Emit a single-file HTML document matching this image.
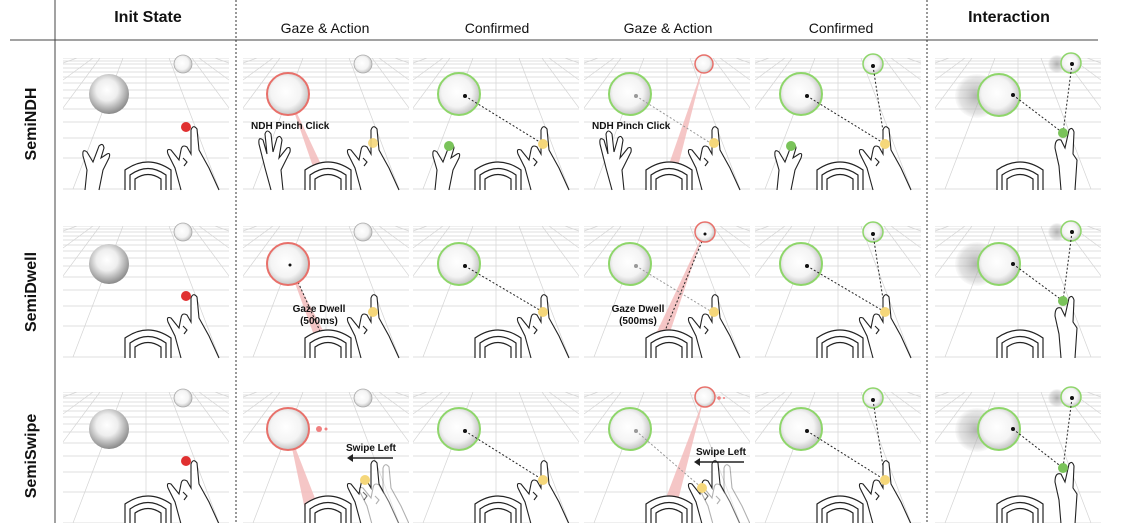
<!DOCTYPE html>
<html><head><meta charset="utf-8"><style>
body{margin:0;background:#fff;}
svg{display:block;font-family:"Liberation Sans","Noto Sans CJK KR",sans-serif;}
</style></head><body>
<svg width="1122" height="523" viewBox="0 0 1122 523" xmlns="http://www.w3.org/2000/svg">
<defs>
<clipPath id="pc"><rect x="0" y="0" width="166" height="133"/></clipPath>
<radialGradient id="sph" cx="0.45" cy="0.4" r="0.6">
<stop offset="0" stop-color="#fff"/><stop offset="0.45" stop-color="#eee"/><stop offset="1" stop-color="#8a8a8a"/>
</radialGradient>
<radialGradient id="sphW" cx="0.45" cy="0.45" r="0.6">
<stop offset="0" stop-color="#fff"/><stop offset="0.6" stop-color="#f4f4f4"/><stop offset="1" stop-color="#b8b8b8"/>
</radialGradient>
<radialGradient id="ghost" cx="0.5" cy="0.5" r="0.5">
<stop offset="0" stop-color="#999" stop-opacity="0.75"/><stop offset="0.8" stop-color="#bbb" stop-opacity="0.4"/><stop offset="1" stop-color="#ccc" stop-opacity="0.1"/>
</radialGradient>
<g id="grid" stroke="#d4d4d4" stroke-width="0.7" fill="none">
<line x1="0" y1="0" x2="166" y2="0"/><line x1="0" y1="3" x2="166" y2="3"/><line x1="0" y1="6" x2="166" y2="6"/>
<line x1="0" y1="10" x2="166" y2="10"/><line x1="0" y1="14" x2="166" y2="14"/><line x1="0" y1="19" x2="166" y2="19"/>
<line x1="0" y1="25" x2="166" y2="25"/><line x1="0" y1="32" x2="166" y2="32"/><line x1="0" y1="40" x2="166" y2="40"/>
<line x1="0" y1="51" x2="166" y2="51"/><line x1="0" y1="64" x2="166" y2="64"/><line x1="0" y1="80" x2="166" y2="80"/>
<line x1="0" y1="100" x2="166" y2="100"/><line x1="0" y1="131" x2="166" y2="131"/>
<line x1="83" y1="0" x2="83" y2="131"/>
<line x1="60" y1="0" x2="10" y2="131"/><line x1="106" y1="0" x2="156" y2="131"/>
<line x1="37" y1="0" x2="-60" y2="131"/><line x1="129" y1="0" x2="226" y2="131"/>
<line x1="14" y1="0" x2="0" y2="5"/><line x1="152" y1="0" x2="166" y2="5"/>
<line x1="0" y1="22" x2="30" y2="0"/><line x1="166" y1="22" x2="136" y2="0"/>
</g>
<g id="hs" fill="#fff" stroke="#222" stroke-width="1.2">
<path d="M62 132 L62 112 Q85 96 108 112 L108 132"/>
<path d="M67 132 L67 117 Q85 104 103 117 L103 132"/>
<path d="M72 132 L72 121 Q85 112 98 121 L98 132"/>
</g>
<g id="rh" fill="#fff" stroke="#222" stroke-width="1.1">
<path d="M118 132 L112 110 L105 96 Q103 90 108 92 L116 102 L118 92 Q119 86 124 89 L128 96 L128 72 Q130 66 134 71 L136 92 L146 110 L156 132"/>
<path d="M120 100 L124 104 L121 108"/>
</g>
<g id="lh" fill="#fff" stroke="#222" stroke-width="1.1">
<path d="M22 132 L24 112 L20 98 Q19 90 24 94 L30 104 L36 88 Q40 84 41 90 L38 100 L44 96 Q48 94 46 100 L40 112 L36 132"/>
</g>
<g id="lhOpen" fill="#fff" stroke="#222" stroke-width="1.1">
<path d="M28 132 L22 110 L16 86 Q15 78 20 82 L24 96 L22 76 Q24 70 28 76 L30 94 L34 80 Q37 76 39 82 L36 100 L44 90 Q48 88 47 94 L38 112 L40 132"/>
</g>
<g id="rhUp" fill="#fff" stroke="#222" stroke-width="1.1">
<path d="M126 132 L124 108 L120 90 Q120 80 126 82 L130 90 L134 72 Q137 68 139 74 L138 96 L142 102 L140 132"/>
</g>
<g id="g" clip-path="url(#pc)"><use href="#grid"/></g>
</defs>

<line x1="55" y1="0" x2="55" y2="523" stroke="#444" stroke-width="1"/>
<line x1="10" y1="40" x2="1098" y2="40" stroke="#444" stroke-width="1"/>
<line x1="236" y1="0" x2="236" y2="523" stroke="#333" stroke-width="1" stroke-dasharray="2,2"/>
<line x1="927" y1="0" x2="927" y2="523" stroke="#333" stroke-width="1" stroke-dasharray="2,2"/>
<g fill="#111" text-anchor="middle">
<text x="148" y="22" font-weight="bold" font-size="16">Init State</text>
<text x="325" y="33" font-size="14">Gaze &amp; Action</text>
<text x="497" y="33" font-size="14">Confirmed</text>
<text x="668" y="33" font-size="14">Gaze &amp; Action</text>
<text x="841" y="33" font-size="14">Confirmed</text>
<text x="1009" y="22" font-weight="bold" font-size="16">Interaction</text>
</g>
<g font-size="16" font-weight="bold" fill="#111" text-anchor="middle">
<text transform="translate(36,124) rotate(-90)">SemiNDH</text>
<text transform="translate(36,292) rotate(-90)">SemiDwell</text>
<text transform="translate(36,456) rotate(-90)">SemiSwipe</text>
</g>

<!-- ROW 1 -->
<g transform="translate(63,58)">
<use href="#g"/>
<circle cx="46" cy="36" r="20" fill="url(#sph)"/>
<circle cx="120" cy="6" r="9" fill="url(#sphW)" stroke="#aaa" stroke-width="0.8"/>
<use href="#hs"/><use href="#lh"/><use href="#rh"/>
<circle cx="123" cy="69" r="5" fill="#e03030"/>
</g>
<g transform="translate(243,58)">
<use href="#g"/>
<path d="M45 36 L78 132 L90 132 Z" fill="#f3b8b8" opacity="0.8"/>
<circle cx="45" cy="36" r="21" fill="url(#sphW)" stroke="#e8706a" stroke-width="2"/>
<circle cx="120" cy="6" r="9" fill="url(#sphW)" stroke="#aaa" stroke-width="0.8"/>
<use href="#hs"/><use href="#lhOpen"/><use href="#rh"/>
<circle cx="130" cy="85" r="5" fill="#f5d77a" opacity="0.9"/>
<text x="8" y="71" font-size="10" font-weight="bold" fill="#111">NDH Pinch Click</text>
</g>
<g transform="translate(413,58)">
<use href="#g"/>
<circle cx="46" cy="36" r="21" fill="url(#sphW)" stroke="#8ed66a" stroke-width="2"/>
<line x1="52" y1="38" x2="130" y2="86" stroke="#222" stroke-dasharray="2,2"/>
<circle cx="52" cy="38" r="2" fill="#111"/>
<use href="#hs"/><use href="#lh"/><use href="#rh"/>
<circle cx="130" cy="86" r="5" fill="#f5d77a"/>
<circle cx="36" cy="88" r="5" fill="#7ac35a"/>
</g>
<g transform="translate(584,58)">
<use href="#g"/>
<path d="M120 6 L76 132 L88 132 Z" fill="#f3b8b8" opacity="0.8"/>
<circle cx="46" cy="36" r="21" fill="url(#sphW)" stroke="#8ed66a" stroke-width="2"/>
<circle cx="120" cy="6" r="9" fill="url(#sphW)" stroke="#e8706a" stroke-width="1.5"/>
<line x1="52" y1="38" x2="128" y2="86" stroke="#999" stroke-dasharray="2,2"/>
<circle cx="52" cy="38" r="2" fill="#999"/>
<use href="#hs"/><use href="#lhOpen"/><use href="#rh"/>
<circle cx="130" cy="85" r="5" fill="#f5d77a"/>
<text x="8" y="71" font-size="10" font-weight="bold" fill="#111">NDH Pinch Click</text>
</g>
<g transform="translate(755,58)">
<use href="#g"/>
<circle cx="46" cy="36" r="21" fill="url(#sphW)" stroke="#8ed66a" stroke-width="2"/>
<circle cx="118" cy="6" r="10" fill="url(#sphW)" stroke="#8ed66a" stroke-width="1.5"/>
<line x1="52" y1="38" x2="130" y2="86" stroke="#222" stroke-dasharray="2,2"/>
<line x1="118" y1="8" x2="130" y2="86" stroke="#222" stroke-dasharray="2,2"/>
<circle cx="52" cy="38" r="2" fill="#111"/><circle cx="118" cy="8" r="2" fill="#111"/>
<use href="#hs"/><use href="#lh"/><use href="#rh"/>
<circle cx="130" cy="86" r="5" fill="#f5d77a"/>
<circle cx="36" cy="88" r="5" fill="#7ac35a"/>
</g>
<g transform="translate(935,58)">
<use href="#g"/>
<circle cx="42" cy="38" r="22" fill="url(#ghost)"/>
<circle cx="122" cy="6" r="9" fill="url(#ghost)"/>
<circle cx="64" cy="37" r="21" fill="url(#sphW)" stroke="#8ed66a" stroke-width="2"/>
<circle cx="136" cy="5" r="10" fill="url(#sphW)" stroke="#8ed66a" stroke-width="1.5"/>
<line x1="78" y1="37" x2="128" y2="75" stroke="#222" stroke-dasharray="2,2"/>
<line x1="137" y1="6" x2="128" y2="75" stroke="#222" stroke-dasharray="2,2"/>
<circle cx="78" cy="37" r="2" fill="#111"/><circle cx="137" cy="6" r="2" fill="#111"/>
<use href="#hs"/><use href="#rhUp"/>
<circle cx="128" cy="75" r="5" fill="#7ac35a"/>
</g>

<!-- ROW 2 -->
<g transform="translate(63,226)">
<use href="#g"/>
<circle cx="46" cy="38" r="20" fill="url(#sph)"/>
<circle cx="120" cy="6" r="9" fill="url(#sphW)" stroke="#aaa" stroke-width="0.8"/>
<use href="#hs"/><use href="#rh"/>
<circle cx="123" cy="70" r="5" fill="#e03030"/>
</g>
<g transform="translate(243,226)">
<use href="#g"/>
<path d="M45 38 L72 112 L84 112 Z" fill="#f3b8b8" opacity="0.8"/>
<line x1="47" y1="38" x2="80" y2="112" stroke="#222" stroke-dasharray="2,2"/>
<circle cx="45" cy="38" r="21" fill="url(#sphW)" stroke="#e8706a" stroke-width="2"/>
<circle cx="47" cy="39" r="1.5" fill="#111"/>
<circle cx="120" cy="6" r="9" fill="url(#sphW)" stroke="#aaa" stroke-width="0.8"/>
<use href="#hs"/><use href="#rh"/>
<circle cx="130" cy="86" r="5" fill="#f5d77a"/>
<text x="76" y="86" font-size="10" font-weight="bold" fill="#111" text-anchor="middle">Gaze Dwell</text>
<text x="76" y="98" font-size="10" font-weight="bold" fill="#111" text-anchor="middle">(500ms)</text>
</g>
<g transform="translate(413,226)">
<use href="#g"/>
<circle cx="46" cy="38" r="21" fill="url(#sphW)" stroke="#8ed66a" stroke-width="2"/>
<line x1="52" y1="40" x2="130" y2="86" stroke="#222" stroke-dasharray="2,2"/>
<circle cx="52" cy="40" r="2" fill="#111"/>
<use href="#hs"/><use href="#rh"/>
<circle cx="130" cy="86" r="5" fill="#f5d77a"/>
</g>
<g transform="translate(584,226)">
<use href="#g"/>
<path d="M120 6 L70 112 L84 112 Z" fill="#f3b8b8" opacity="0.8"/>
<line x1="121" y1="8" x2="78" y2="112" stroke="#222" stroke-dasharray="2,2"/>
<circle cx="46" cy="38" r="21" fill="url(#sphW)" stroke="#8ed66a" stroke-width="2"/>
<circle cx="121" cy="6" r="10" fill="url(#sphW)" stroke="#e8706a" stroke-width="1.5"/>
<circle cx="121" cy="8" r="1.5" fill="#111"/>
<line x1="52" y1="40" x2="128" y2="86" stroke="#999" stroke-dasharray="2,2"/>
<circle cx="52" cy="40" r="2" fill="#999"/>
<use href="#hs"/><use href="#rh"/>
<circle cx="130" cy="86" r="5" fill="#f5d77a"/>
<text x="54" y="86" font-size="10" font-weight="bold" fill="#111" text-anchor="middle">Gaze Dwell</text>
<text x="54" y="98" font-size="10" font-weight="bold" fill="#111" text-anchor="middle">(500ms)</text>
</g>
<g transform="translate(755,226)">
<use href="#g"/>
<circle cx="46" cy="38" r="21" fill="url(#sphW)" stroke="#8ed66a" stroke-width="2"/>
<circle cx="118" cy="6" r="10" fill="url(#sphW)" stroke="#8ed66a" stroke-width="1.5"/>
<line x1="52" y1="40" x2="130" y2="86" stroke="#222" stroke-dasharray="2,2"/>
<line x1="118" y1="8" x2="130" y2="86" stroke="#222" stroke-dasharray="2,2"/>
<circle cx="52" cy="40" r="2" fill="#111"/><circle cx="118" cy="8" r="2" fill="#111"/>
<use href="#hs"/><use href="#rh"/>
<circle cx="130" cy="86" r="5" fill="#f5d77a"/>
</g>
<g transform="translate(935,226)">
<use href="#g"/>
<circle cx="42" cy="38" r="22" fill="url(#ghost)"/>
<circle cx="122" cy="6" r="9" fill="url(#ghost)"/>
<circle cx="64" cy="38" r="21" fill="url(#sphW)" stroke="#8ed66a" stroke-width="2"/>
<circle cx="136" cy="5" r="10" fill="url(#sphW)" stroke="#8ed66a" stroke-width="1.5"/>
<line x1="78" y1="38" x2="128" y2="75" stroke="#222" stroke-dasharray="2,2"/>
<line x1="137" y1="6" x2="128" y2="75" stroke="#222" stroke-dasharray="2,2"/>
<circle cx="78" cy="38" r="2" fill="#111"/><circle cx="137" cy="6" r="2" fill="#111"/>
<use href="#hs"/><use href="#rhUp"/>
<circle cx="128" cy="75" r="5" fill="#7ac35a"/>
</g>

<!-- ROW 3 -->
<g transform="translate(63,392)">
<use href="#g"/>
<circle cx="46" cy="37" r="20" fill="url(#sph)"/>
<circle cx="120" cy="6" r="9" fill="url(#sphW)" stroke="#aaa" stroke-width="0.8"/>
<use href="#hs"/><use href="#rh"/>
<circle cx="123" cy="69" r="5" fill="#e03030"/>
</g>
<g transform="translate(243,392)">
<use href="#g"/>
<path d="M45 37 L65 132 L82 132 Z" fill="#f3b8b8" opacity="0.8"/>
<circle cx="45" cy="37" r="21" fill="url(#sphW)" stroke="#e8706a" stroke-width="2"/>
<circle cx="76" cy="37" r="3" fill="#f08080"/><circle cx="83" cy="37" r="1.5" fill="#f08080"/>
<circle cx="120" cy="6" r="9" fill="url(#sphW)" stroke="#aaa" stroke-width="0.8"/>
<g clip-path="url(#pc)">
<use href="#hs"/><use href="#rh"/>
<g transform="translate(12,4)" opacity="0.35"><use href="#rh"/></g>
</g>
<circle cx="122" cy="88" r="5" fill="#f5d77a"/>
<text x="103" y="59" font-size="10" font-weight="bold" fill="#111">Swipe Left</text>
<line x1="106" y1="66" x2="150" y2="66" stroke="#222" stroke-width="1.5"/>
<path d="M104 66 L110 62 L110 70 Z" fill="#222"/>
</g>
<g transform="translate(413,392)">
<use href="#g"/>
<circle cx="46" cy="37" r="21" fill="url(#sphW)" stroke="#8ed66a" stroke-width="2"/>
<line x1="52" y1="39" x2="130" y2="88" stroke="#222" stroke-dasharray="2,2"/>
<circle cx="52" cy="39" r="2" fill="#111"/>
<use href="#hs"/><use href="#rh"/>
<circle cx="130" cy="88" r="5" fill="#f5d77a"/>
</g>
<g transform="translate(584,392)">
<use href="#g"/>
<path d="M120 6 L72 132 L88 132 Z" fill="#f3b8b8" opacity="0.8"/>
<circle cx="46" cy="37" r="21" fill="url(#sphW)" stroke="#8ed66a" stroke-width="2"/>
<circle cx="121" cy="5" r="10" fill="url(#sphW)" stroke="#e8706a" stroke-width="1.5"/>
<circle cx="135" cy="6" r="1.8" fill="#f08080"/><circle cx="140" cy="6" r="1" fill="#f08080"/>
<line x1="52" y1="39" x2="118" y2="96" stroke="#999" stroke-dasharray="2,2"/>
<circle cx="52" cy="39" r="2" fill="#999"/>
<g clip-path="url(#pc)">
<use href="#hs"/><use href="#rh"/>
<g transform="translate(12,4)" opacity="0.35"><use href="#rh"/></g>
</g>
<circle cx="118" cy="96" r="5" fill="#f5d77a"/>
<text x="112" y="63" font-size="10" font-weight="bold" fill="#111">Swipe Left</text>
<line x1="112" y1="70" x2="160" y2="70" stroke="#222" stroke-width="1.5"/>
<path d="M110 70 L116 66 L116 74 Z" fill="#222"/>
</g>
<g transform="translate(755,392)">
<use href="#g"/>
<circle cx="46" cy="37" r="21" fill="url(#sphW)" stroke="#8ed66a" stroke-width="2"/>
<circle cx="118" cy="6" r="10" fill="url(#sphW)" stroke="#8ed66a" stroke-width="1.5"/>
<line x1="52" y1="39" x2="130" y2="88" stroke="#222" stroke-dasharray="2,2"/>
<line x1="118" y1="8" x2="130" y2="88" stroke="#222" stroke-dasharray="2,2"/>
<circle cx="52" cy="39" r="2" fill="#111"/><circle cx="118" cy="8" r="2" fill="#111"/>
<use href="#hs"/><use href="#rh"/>
<circle cx="130" cy="88" r="5" fill="#f5d77a"/>
</g>
<g transform="translate(935,392)">
<use href="#g"/>
<circle cx="42" cy="38" r="22" fill="url(#ghost)"/>
<circle cx="122" cy="6" r="9" fill="url(#ghost)"/>
<circle cx="64" cy="37" r="21" fill="url(#sphW)" stroke="#8ed66a" stroke-width="2"/>
<circle cx="136" cy="5" r="10" fill="url(#sphW)" stroke="#8ed66a" stroke-width="1.5"/>
<line x1="78" y1="37" x2="128" y2="76" stroke="#222" stroke-dasharray="2,2"/>
<line x1="137" y1="6" x2="128" y2="76" stroke="#222" stroke-dasharray="2,2"/>
<circle cx="78" cy="37" r="2" fill="#111"/><circle cx="137" cy="6" r="2" fill="#111"/>
<use href="#hs"/><use href="#rhUp"/>
<circle cx="128" cy="76" r="5" fill="#7ac35a"/>
</g>
</svg>
</body></html>
